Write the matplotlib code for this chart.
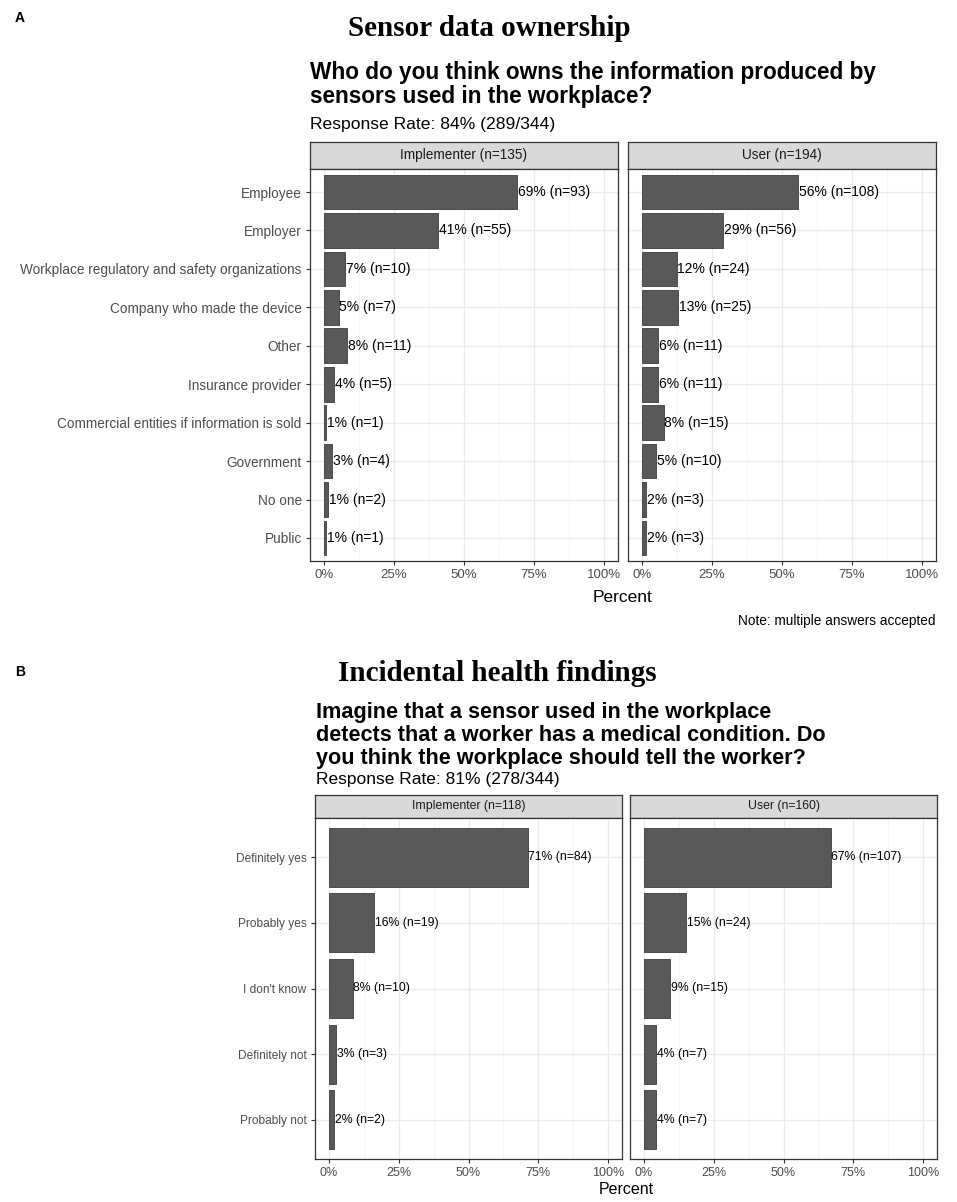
import numpy as np
import matplotlib
matplotlib.use('Agg')
import matplotlib.pyplot as plt

plt.rcParams['font.family'] = ['Liberation Sans', 'DejaVu Sans']

# Panel A: who owns sensor data (counts per group)
owners = ['Employee', 'Employer', 'Workplace regulatory and safety organizations',
          'Company who made the device', 'Other', 'Insurance provider',
          'Commercial entities if information is sold', 'Government', 'No one', 'Public']
impl_owner_n = [93, 55, 10, 7, 11, 5, 1, 4, 2, 1]
user_owner_n = [108, 56, 24, 25, 11, 11, 15, 10, 3, 3]
impl_total_a = 135
user_total_a = 194

# Panel B: incidental health findings
answers = ['Definitely yes', 'Probably yes', "I don't know", 'Definitely not', 'Probably not']
impl_health_n = [84, 19, 10, 3, 2]
user_health_n = [107, 24, 15, 7, 7]
impl_total_b = 118
user_total_b = 160

x_ticks = [0, 25, 50, 75, 100]
x_ticklabels = ['0%', '25%', '50%', '75%', '100%']

W, H = 957, 1202
fig = plt.figure(figsize=(W / 100, H / 100), dpi=100)


def box(x0, y0, x1, y1):
    return fig.add_axes([x0 / W, 1 - y1 / H, (x1 - x0) / W, (y1 - y0) / H])


def ftext(x, y, s, **kw):
    fig.text(x / W, 1 - y / H, s, **kw)


def facet(x0, x1, strip_top, top, bottom, cats, counts, total, name, show_y, fs):
    st = box(x0, strip_top, x1, top)
    st.set_facecolor('#D9D9D9')
    st.set_xticks([])
    st.set_yticks([])
    for s in st.spines.values():
        s.set_color('#333333')
        s.set_linewidth(0.9)
    st.text(0.5, 0.5, f'{name} (n={total})', ha='center', va='center',
            fontsize=fs['strip'], color='#1A1A1A', transform=st.transAxes)

    ax = box(x0, top, x1, bottom)
    pct = 100 * np.array(counts) / total
    y = np.arange(len(cats))
    ax.barh(y, pct, height=0.9, color='#595959', edgecolor='#3d3d3d', linewidth=0.6, zorder=2)
    for yi, p, c in zip(y, pct, counts):
        ax.text(p + 0.3, yi, f'{int(np.floor(p + 0.5))}% (n={c})', va='center', ha='left',
                fontsize=fs['bar'], color='black', zorder=3)
    ax.set_xlim(-5, 105)
    ax.set_ylim(len(cats) - 0.4, -0.6)
    ax.set_xticks(x_ticks)
    ax.set_xticklabels(x_ticklabels)
    ax.set_xticks([12.5, 37.5, 62.5, 87.5], minor=True)
    ax.set_yticks(y)
    ax.grid(which='major', color='#EBEBEB', linewidth=1.0)
    ax.grid(which='minor', axis='x', color='#F2F2F2', linewidth=0.6)
    ax.set_axisbelow(True)
    ax.tick_params(axis='x', which='major', length=3, width=0.8, color='#333333',
                   labelsize=fs['tick'], labelcolor='#4D4D4D', pad=3)
    ax.tick_params(axis='x', which='minor', length=0)
    if show_y:
        ax.set_yticklabels(cats)
        ax.tick_params(axis='y', length=3, width=0.8, color='#333333',
                       labelsize=fs['ylab'], labelcolor='#4D4D4D', pad=3)
    else:
        ax.tick_params(axis='y', length=0, labelleft=False)
    for s in ax.spines.values():
        s.set_color('#333333')
        s.set_linewidth(0.9)
    return ax


# ---------- A ----------
fs_a = {'strip': 9.8, 'bar': 10, 'tick': 9.5, 'ylab': 9.8}
ftext(20, 18, 'A', fontsize=10, fontweight='bold', ha='center', va='center')
ftext(489, 36, 'Sensor data ownership', family=['Liberation Serif'], fontweight='bold',
      fontsize=21, ha='center', va='baseline')
ftext(310, 79, 'Who do you think owns the information produced by', fontsize=16.3,
      fontweight='bold', va='baseline')
ftext(310, 103, 'sensors used in the workplace?', fontsize=16.3, fontweight='bold', va='baseline')
ftext(310, 129, 'Response Rate: 84% (289/344)', fontsize=12.6, va='baseline')

facet(310, 618, 142, 169, 561, owners, impl_owner_n, impl_total_a, 'Implementer', True, fs_a)
facet(628, 936, 142, 169, 561, owners, user_owner_n, user_total_a, 'User', False, fs_a)
ftext(623, 597, 'Percent', fontsize=12.5, ha='center', va='center')
ftext(936, 621, 'Note: multiple answers accepted', fontsize=9.8, ha='right', va='center')

# ---------- B ----------
fs_b = {'strip': 8.8, 'bar': 8.8, 'tick': 9, 'ylab': 8.6}
ftext(20, 672, 'B', fontsize=10, fontweight='bold', ha='center', va='center')
ftext(497, 681, 'Incidental health findings', family=['Liberation Serif'], fontweight='bold',
      fontsize=21, ha='center', va='baseline')
ftext(316, 718, 'Imagine that a sensor used in the workplace', fontsize=15.6,
      fontweight='bold', va='baseline')
ftext(316, 741, 'detects that a worker has a medical condition. Do', fontsize=15.6,
      fontweight='bold', va='baseline')
ftext(316, 764, 'you think the workplace should tell the worker?', fontsize=15.6,
      fontweight='bold', va='baseline')
ftext(316, 784, 'Response Rate: 81% (278/344)', fontsize=12.5, va='baseline')

facet(315, 622, 795, 818, 1159, answers, impl_health_n, impl_total_b, 'Implementer', True, fs_b)
facet(630, 937, 795, 818, 1159, answers, user_health_n, user_total_b, 'User', False, fs_b)
ftext(626, 1190, 'Percent', fontsize=11.5, ha='center', va='center')

fig.savefig('out.png', dpi=100)
